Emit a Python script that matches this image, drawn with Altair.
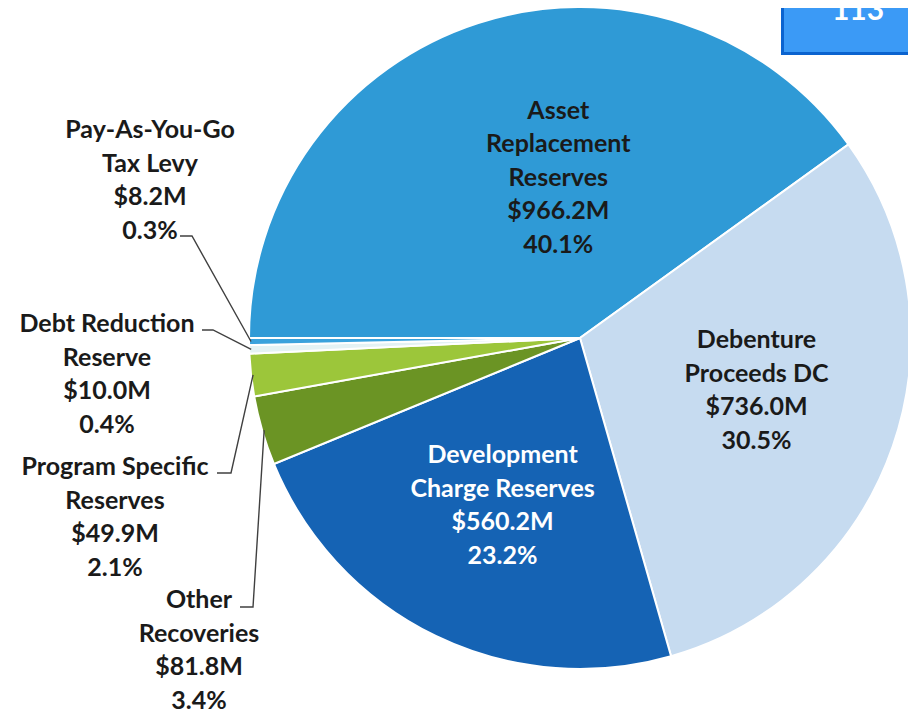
import math
import altair as alt
import pandas as pd

# ---- data ----
categories = ["Asset Replacement Reserves", "Debenture Proceeds DC", "Development Charge Reserves",
              "Other Recoveries", "Program Specific Reserves", "Debt Reduction Reserve",
              "Pay-As-You-Go Tax Levy"]
amounts = [966.2, 736.0, 560.2, 81.8, 49.9, 10.0, 8.2]          # $M
percents = ["40.1%", "30.5%", "23.2%", "3.4%", "2.1%", "0.4%", "0.3%"]
name_lines = [["Asset", "Replacement", "Reserves"], ["Debenture", "Proceeds DC"],
              ["Development", "Charge Reserves"], ["Other", "Recoveries"],
              ["Program Specific", "Reserves"], ["Debt Reduction", "Reserve"],
              ["Pay-As-You-Go", "Tax Levy"]]
page_number = "113"

# ---- styles ----
colors = ["#2f9ad6", "#c6dbf0", "#1563b4", "#6b9424", "#9cc63a", "#e4f2f4", "#3aa2dc"]
inside_text_colors = ["#1a1a1a", "#1a1a1a", "#ffffff"]
FONT = "Lato"
FS = 25
LH = 33.5

# ---- layout (plot coordinates) ----
W, H = 900, 705
CX, CY, R = 572, 330, 331
START = 1.5 * math.pi
inside_layout = [(165, 29, -70), (190, -3, -60), (180, 1, -45)]   # radius, dx, dy
# outside labels: first-line centre, leader start, leader elbow (page coords)
outside_layout = {
    "Other Recoveries": ((199, 600), (240, 607), (253, 607)),
    "Program Specific Reserves": ((115, 467), (217, 473), (231, 473)),
    "Debt Reduction Reserve": ((107, 324), (202, 330), (213, 330)),
    "Pay-As-You-Go Tax Levy": ((150, 130), (180, 236), (192, 236)),
}

total = sum(amounts)
labels = ["\n".join(n + [f"${a:.1f}M", p]) for n, a, p in zip(name_lines, amounts, percents)]
df = pd.DataFrame({"cat": categories, "amount": amounts,
                   "order": list(range(len(categories))), "label": labels})

theta_scale = alt.Scale(domain=[0, total], range=[START, START + 2 * math.pi])

base = alt.Chart(df).transform_window(
    v1="sum(amount)", sort=[alt.SortField("order")], frame=[None, 0]
).transform_calculate(v0="datum.v1 - datum.amount", mid="datum.v1 - datum.amount / 2")

arcs = base.mark_arc(x=CX, y=CY, outerRadius=R, stroke="white", strokeWidth=2).encode(
    theta=alt.Theta("v0:Q", scale=theta_scale, stack=None),
    theta2="v1:Q",
    color=alt.Color("cat:N", scale=alt.Scale(domain=categories, range=colors), legend=None),
)

layers = [arcs]
for i in range(3):
    r, dx, dy = inside_layout[i]
    layers.append(
        base.transform_filter(alt.datum.cat == categories[i]).mark_text(
            x=CX, y=CY, radius=r, dx=dx, dy=dy, align="center", baseline="middle",
            lineBreak="\n", lineHeight=LH, font=FONT, fontSize=FS, fontWeight="bold",
            color=inside_text_colors[i],
        ).encode(theta=alt.Theta("mid:Q", scale=theta_scale, stack=None), text="label:N")
    )

# outside labels and leader lines
cum = 0.0
cum_before = {}
for c, a in zip(categories, amounts):
    cum_before[c] = cum
    cum += a

out_rows, line_rows = [], []
for c, (tc, p1, p2) in outside_layout.items():
    i = categories.index(c)
    out_rows.append({"cat": c, "label": labels[i], "lx": tc[0] - 8, "ly": tc[1] - 8})
    mid = cum_before[c] + amounts[i] / 2
    ang = START + 2 * math.pi * mid / total
    ex, ey = CX + (R - 2) * math.sin(ang), CY - (R - 2) * math.cos(ang)
    for s, (px, py) in enumerate([(p1[0] - 8, p1[1] - 8), (p2[0] - 8, p2[1] - 8), (ex, ey)]):
        line_rows.append({"cat": c, "seq": s, "px": px, "py": py})

out_df = pd.DataFrame(out_rows)
line_df = pd.DataFrame(line_rows)

leaders = alt.Chart(line_df).mark_line(color="#404040", strokeWidth=1.4).encode(
    x=alt.X("px:Q", scale=None, axis=None),
    y=alt.Y("py:Q", scale=None, axis=None),
    detail="cat:N", order="seq:Q",
)
out_text = alt.Chart(out_df).mark_text(
    align="center", baseline="middle", lineBreak="\n", lineHeight=LH,
    font=FONT, fontSize=FS, fontWeight="bold", color="#1a1a1a",
).encode(
    x=alt.X("lx:Q", scale=None, axis=None),
    y=alt.Y("ly:Q", scale=None, axis=None),
    text="label:N",
)
layers += [leaders, out_text]

# page number box
box_df = pd.DataFrame({"t": [page_number]})
box_dark = alt.Chart(box_df).mark_rect(color="#0b63cf").encode(
    x=alt.value(773), x2=alt.value(W), y=alt.value(0), y2=alt.value(47))
box_light = alt.Chart(box_df).mark_rect(color="#3b9af6").encode(
    x=alt.value(776), x2=alt.value(W), y=alt.value(0), y2=alt.value(44))
box_text = alt.Chart(box_df).mark_text(
    font=FONT, fontSize=30, fontWeight="bold", color="white", align="center", baseline="alphabetic"
).encode(x=alt.value(850), y=alt.value(12), text="t:N")
layers += [box_dark, box_light, box_text]

chart = alt.layer(*layers).properties(
    width=W, height=H, padding=0, autosize="none", background="white"
).configure_view(stroke=None)

chart.save("out.html", embed_options={"renderer": "svg", "actions": False})
